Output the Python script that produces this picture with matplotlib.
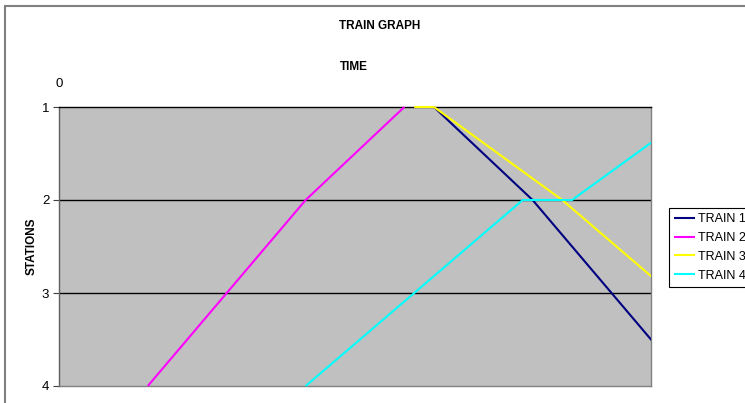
import matplotlib
matplotlib.use("Agg")
import matplotlib.pyplot as plt
from matplotlib.patches import Rectangle

plt.rcParams['font.family'] = ['Liberation Sans', 'DejaVu Sans']

# station number reached by each train at each time (minutes)
train1_time = [38, 48, 56, 64]
train1_station = [1, 2, 3, 4]
train2_time = [35, 25, 17, 9]
train2_station = [1, 2, 3, 4]
train3_time = [36, 38, 51, 62]
train3_station = [1, 1, 2, 3]
train4_time = [25, 36, 47, 52, 65]
train4_station = [4, 3, 2, 2, 1]

station_ticks = [1, 2, 3, 4]
time_ticks = [0]

series = [
    ("TRAIN 1", train1_time, train1_station, "#000080"),
    ("TRAIN 2", train2_time, train2_station, "#FF00FF"),
    ("TRAIN 3", train3_time, train3_station, "#FFFF00"),
    ("TRAIN 4", train4_time, train4_station, "#00FFFF"),
]

fig = plt.figure(figsize=(7.45, 4.03), dpi=100)
ax = fig.add_axes([59 / 745, 1 - 386 / 403, 592 / 745, 279 / 403])
ax.set_facecolor("#C0C0C0")

# clip lines to the plot width but let them sit over the top/bottom edges
clip = Rectangle((0, -0.02), 1, 1.04, transform=ax.transAxes)
for name, t, s, c in series:
    ln, = ax.plot(t, s, color=c, lw=1.5, label=name, solid_capstyle="butt",
                  zorder=3)
    ln.set_clip_path(clip)

ax.set_xlim(0, 60)
ax.set_ylim(4, 1)

# station gridlines
for st in station_ticks[1:-1]:
    ax.axhline(st, color="black", lw=1.0, zorder=1.5)

ax.set_yticks(station_ticks)
ax.tick_params(axis="y", length=4, width=0.8, color="#404040", labelsize=9.5, pad=3)
ax.xaxis.tick_top()
ax.set_xticks(time_ticks)
ax.tick_params(axis="x", length=0, labelsize=9.5, pad=12)

ax.spines["top"].set_color("black")
ax.spines["top"].set_linewidth(1.0)
ax.spines["left"].set_color("#606060")
ax.spines["right"].set_color("#808080")
ax.spines["bottom"].set_color("#808080")
for sp in ("left", "right", "bottom"):
    ax.spines[sp].set_linewidth(1.0)

ax.set_ylabel("STATIONS", fontsize=8.5, fontweight="bold", labelpad=3)

fig.text(380 / 745, 1 - 26 / 403, "TRAIN GRAPH", ha="center", va="center",
         fontsize=8.5, fontweight="bold")
fig.text(354 / 745, 1 - 67 / 403, "TIME", ha="center", va="center",
         fontsize=8.5, fontweight="bold")

leg = fig.legend(loc="upper left", bbox_to_anchor=(669 / 745, 1 - 208 / 403),
                 borderaxespad=0, fontsize=9, handlelength=1.7,
                 handletextpad=0.25, labelspacing=0.55, borderpad=0.4,
                 fancybox=False, framealpha=1, edgecolor="black")
leg.get_frame().set_linewidth(0.8)

# outer chart border
fig.patches.append(Rectangle((4.5 / 745, -0.1), 1.2, 1.1 - 6 / 403,
                             transform=fig.transFigure, fill=False,
                             edgecolor="#808080", lw=1.5))

fig.savefig("out.png", dpi=100)
